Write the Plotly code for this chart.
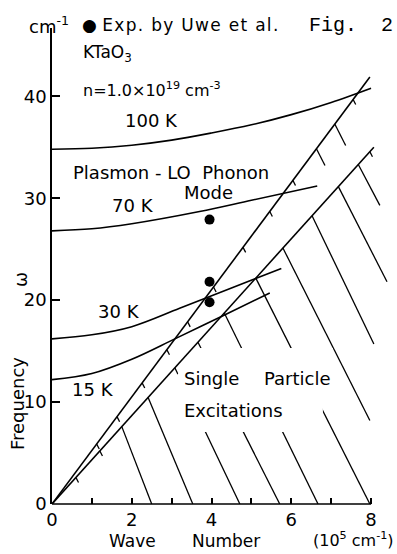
import plotly.graph_objects as go

# Plasmon-LO phonon mode of KTaO3, n = 1.0e19 cm^-3
# wave number k in 10^5 cm^-1, frequency in cm^-1
k_100 = [0, 1, 2, 3, 4, 5, 6, 7, 8.0]
w_100 = [34.8, 34.9, 35.2, 35.7, 36.4, 37.2, 38.2, 39.4, 40.8]
k_70 = [0, 1, 2, 3.7, 5, 6.65]
w_70 = [26.8, 27.0, 27.5, 28.7, 29.8, 31.2]
k_30 = [0, 1, 2, 3.2, 4.5, 5.75]
w_30 = [16.2, 16.6, 17.4, 19.2, 21.2, 23.1]
k_15 = [0, 1, 2, 3.08, 4.3, 5.46]
w_15 = [12.2, 12.8, 14.2, 16.2, 18.5, 20.7]

# experimental points (Uwe et al.)
k_exp = [3.95, 3.95, 3.95]
w_exp = [27.9, 21.8, 19.8]

# boundaries of the single-particle continuum
k_upper = [0, 7.97]
w_upper = [0, 41.9]
k_lower = [0, 8.07]
w_lower = [0, 35.0]

# hatching below the lower boundary: start k on the boundary, end point
hatch_k0 = [1.75, 2.41, 3.08, 3.66, 4.32, 5.11, 5.79, 6.52, 7.18, 7.68]
hatch_k1 = [2.5, 3.53, 4.71, 5.71, 6.67, 7.97, 7.97, 8.07, 8.4, 8.22]
hatch_w1 = [0, 0, 0, 0, 0, 0, 8.2, 15.7, 21.8, 29.3]

# short tick marks along the boundaries
tick_upper_k = [1.12, 1.63, 2.26, 2.88, 3.4, 4.05, 4.79, 5.46, 6.04, 6.63, 7.09, 7.55]
tick_upper_n = [1, 1, 1, 1, 1, 1, 1, 1, 1, 3.3, 4.2, 1]
tick_lower_k = [0.6, 1.2, 7.97]

x_ticks = [0, 1, 2, 3, 4, 5, 6, 7, 8]
x_ticktext = ["0", "", "2", "", "4", "", "6", "", "8"]
y_ticks = [0, 10, 20, 30, 40]
y_ticktext = ["0", "10", "20", "30", "40"]

TICK_DK, TICK_DW = 0.065, -0.5
FONT = "DejaVu Sans"
INK = "black"

W, H = 397, 554
ML, MR, MT, MB = 52, 2, 28, 50
PW, PH = W - ML - MR, H - MT - MB

fig = go.Figure()

for k, w in [(k_100, w_100), (k_70, w_70), (k_30, w_30), (k_15, w_15)]:
    fig.add_trace(go.Scatter(x=k, y=w, mode="lines",
                             line=dict(color=INK, width=1.6, shape="spline"),
                             hoverinfo="skip", showlegend=False))

for k, w in [(k_upper, w_upper), (k_lower, w_lower)]:
    fig.add_trace(go.Scatter(x=k, y=w, mode="lines",
                             line=dict(color=INK, width=1.6),
                             hoverinfo="skip", showlegend=False))

slope_u = w_upper[1] / k_upper[1]
slope_l = w_lower[1] / k_lower[1]

hx, hy = [], []
for k0, k1, w1 in zip(hatch_k0, hatch_k1, hatch_w1):
    hx += [k0, k1, None]
    hy += [slope_l * k0, w1, None]
for k0, n in zip(tick_upper_k, tick_upper_n):
    hx += [k0, k0 + TICK_DK * n, None]
    hy += [slope_u * k0, slope_u * k0 + TICK_DW * n, None]
for k0 in tick_lower_k:
    hx += [k0, k0 + TICK_DK, None]
    hy += [slope_l * k0, slope_l * k0 + TICK_DW, None]
fig.add_trace(go.Scatter(x=hx, y=hy, mode="lines",
                         line=dict(color=INK, width=1.3),
                         hoverinfo="skip", showlegend=False))

fig.add_trace(go.Scatter(x=k_exp, y=w_exp, mode="markers",
                         marker=dict(color=INK, size=10),
                         hoverinfo="skip", showlegend=False))

# white patch behind the "Single Particle Excitations" label
mask_k = [3.133, 3.684, 7.043, 7.043, 6.792, 6.792, 3.208]
mask_w = [12.66, 15.31, 15.31, 10.21, 10.21, 7.07, 7.07]
path = "M " + " L ".join(f"{a},{b}" for a, b in zip(mask_k, mask_w)) + " Z"

shapes = [
    dict(type="path", path=path, xref="x", yref="y", layer="above",
         fillcolor="white", line=dict(width=0)),
    dict(type="line", xref="x", yref="paper", x0=0, x1=8, y0=0, y1=0,
         line=dict(color=INK, width=1.6)),
]


def label(px, py, text, size=18, family=FONT, xanchor="center", angle=0):
    """Place a text by its pixel position on the page."""
    return dict(x=(px - ML) / PW, y=(H - MB - py) / PH, xref="paper", yref="paper",
                text=text, showarrow=False, xanchor=xanchor, yanchor="middle",
                textangle=angle, font=dict(family=family, size=size, color=INK))


annotations = [
    label(27, 25, "cm<sup>-1</sup>", xanchor="left"),
    label(80, 25, "\u25cf\u00a0<span style='letter-spacing:1.3px'>Exp. by Uwe et al.</span>",
          size=17, xanchor="left"),
    label(307, 25, "Fig.\u00a0\u00a02", size=20, family="Liberation Mono", xanchor="left"),
    label(81, 53, "KTaO<sub>3</sub>", size=17, xanchor="left"),
    label(81, 89, "n=1.0\u00d710<sup>19</sup> cm<sup>-3</sup>", size=16, xanchor="left"),
    label(151, 121, "100 K"),
    label(171, 172, "Plasmon - LO\u00a0\u00a0Phonon"),
    label(208, 192, "Mode"),
    label(133, 205, "70 K"),
    label(119, 311, "30 K"),
    label(93, 389, "15 K"),
    label(211, 378, "Single"),
    label(297, 378, "Particle"),
    label(182, 410, "Excitations", xanchor="left"),
    label(17, 404, "Frequency", angle=-90),
    label(20, 280, "\u03c9", angle=-90),
    label(132, 541, "Wave", size=17),
    label(226, 541, "Number", size=17),
    label(353, 539, "(10<sup>5</sup> cm<sup>-1</sup>)", size=16),
]

fig.update_layout(
    width=W, height=H,
    margin=dict(l=ML, r=MR, t=MT, b=MB, autoexpand=False),
    paper_bgcolor="white", plot_bgcolor="white",
    shapes=shapes, annotations=annotations, showlegend=False,
    xaxis=dict(range=[0, 8.6], showgrid=False, zeroline=False, showline=False,
               tickvals=x_ticks, ticktext=x_ticktext, ticks="inside",
               ticklen=6, tickwidth=1.5, tickcolor=INK, ticklabelstandoff=3,
               tickfont=dict(family=FONT, size=18, color=INK)),
    yaxis=dict(range=[0, 46.7], showgrid=False, zeroline=False, showline=True,
               linecolor=INK, linewidth=1.6,
               tickvals=y_ticks, ticktext=y_ticktext, ticks="inside",
               ticklen=8, tickwidth=1.5, tickcolor=INK,
               tickfont=dict(family=FONT, size=18, color=INK)),
)

fig.write_html("out.html")
